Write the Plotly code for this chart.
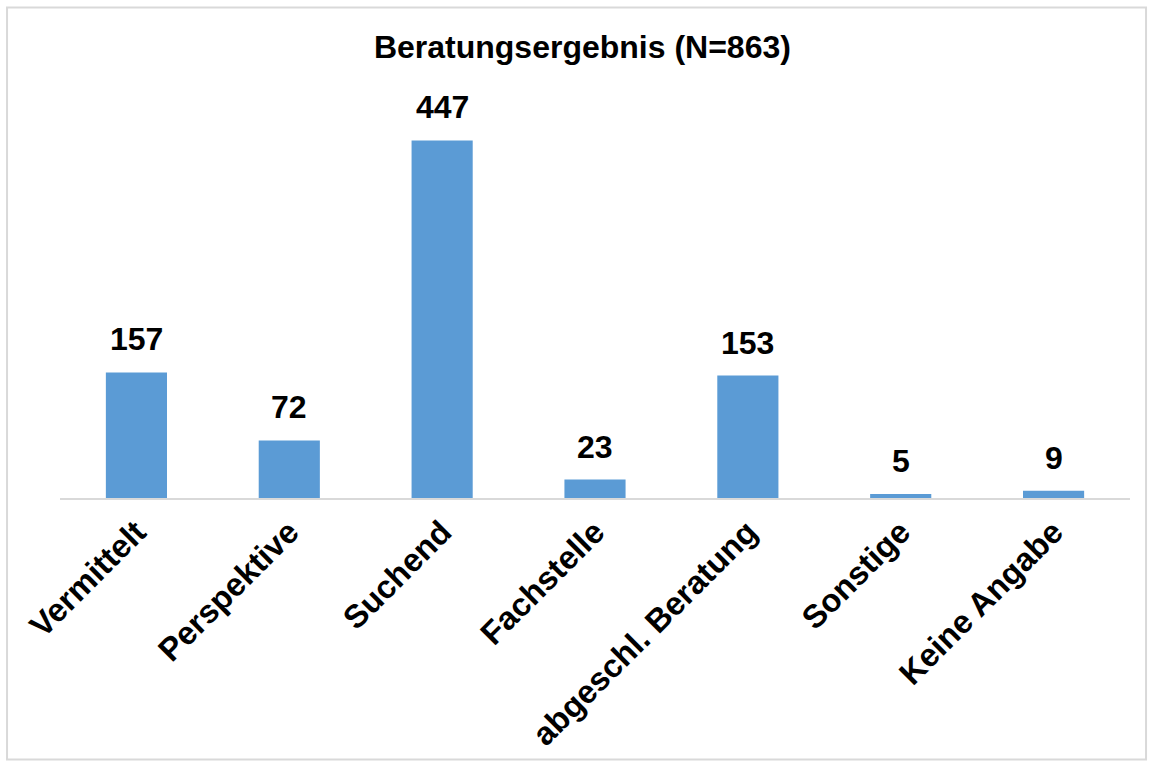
import plotly.graph_objects as go

categories = ["Vermittelt", "Perspektive", "Suchend", "Fachstelle",
              "abgeschl. Beratung", "Sonstige", "Keine Angabe"]
values = [157, 72, 447, 23, 153, 5, 9]
title_text = "Beratungsergebnis (N=863)"

FONT = "Liberation Sans, Arial, sans-serif"
BAR_COLOR = "#5B9BD5"
GRID = "#D9D9D9"

fig = go.Figure()
fig.add_trace(go.Bar(
    x=categories, y=values, marker=dict(color=BAR_COLOR, line=dict(width=0)),
    width=0.4, hoverinfo="x+y",
))

for c, v in zip(categories, values):
    fig.add_annotation(x=c, y=v, text=str(v), showarrow=False,
                       yanchor="bottom", yshift=13,
                       font=dict(family=FONT, size=32, color="black", weight="bold"))

# outer chart border
fig.add_shape(type="rect", xref="paper", yref="paper",
              x0=-0.0495, x1=1.015, y0=-0.654, y1=1.226,
              line=dict(color=GRID, width=2), layer="below")

fig.update_layout(
    width=1151, height=765,
    margin=dict(l=60, r=21, t=98, b=267),
    paper_bgcolor="white", plot_bgcolor="white",
    showlegend=False,
    title=dict(text=title_text, x=0.506, xanchor="center", y=0.939, yanchor="middle",
               font=dict(family=FONT, size=32, color="black", weight="bold")),
    bargap=0.6,
)
fig.update_xaxes(showline=True, linecolor=GRID, linewidth=2, tickangle=-45,
                 ticks="", showgrid=False,
                 tickfont=dict(family=FONT, size=32.5, color="black", weight="bold"))
fig.update_yaxes(range=[0, 500], visible=False, showgrid=False, zeroline=False)

fig.write_html("out.html", config={"displayModeBar": False},
               post_script="document.body.style.margin='0';document.body.style.overflow='hidden';")
